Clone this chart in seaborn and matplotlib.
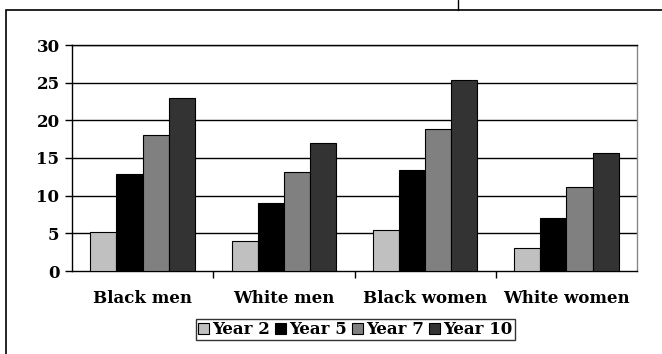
import matplotlib
matplotlib.use("Agg")
import matplotlib.pyplot as plt
import matplotlib.patches as mpatches
import matplotlib.lines as mlines
import numpy as np
import pandas as pd
import seaborn as sns

# Group categories and the survey years shown for each
categories = ["Black men", "White men", "Black women", "White women"]
years = ["Year 2", "Year 5", "Year 7", "Year 10"]

year2 = [5.2, 4.0, 5.4, 3.1]
year5 = [12.9, 9.0, 13.4, 7.1]
year7 = [18.0, 13.1, 18.9, 11.1]
year10 = [23.0, 17.0, 25.3, 15.7]

y_ticks = [0, 5, 10, 15, 20, 25, 30]

colors = ["#C0C0C0", "#000000", "#808080", "#333333"]

df = pd.DataFrame({
    "group": np.repeat(categories, len(years)),
    "year": years * len(categories),
    "value": [v for vals in zip(year2, year5, year7, year10) for v in vals],
})

sns.set_theme(style="white")
plt.rcParams["font.family"] = ["DejaVu Serif"]
plt.rcParams["font.weight"] = "bold"
plt.rcParams["text.color"] = "black"
plt.rcParams["xtick.color"] = "black"
plt.rcParams["ytick.color"] = "black"
plt.rcParams["xtick.labelcolor"] = "black"
plt.rcParams["ytick.labelcolor"] = "black"

fig = plt.figure(figsize=(6.62, 3.54), dpi=100)
W, H = 662, 354
ax = fig.add_axes([72 / W, 1 - 271 / H, 565 / W, 226 / H])

sns.barplot(
    data=df, x="group", y="value", hue="year", order=categories,
    hue_order=years, palette=colors, width=0.74, edgecolor="black",
    linewidth=0.8, saturation=1, ax=ax, legend=False, zorder=3,
)

ax.set_ylim(0, 30)
ax.set_xlim(-0.5, len(categories) - 0.5)
ax.set_yticks(y_ticks)
ax.set_yticklabels([str(t) for t in y_ticks], fontsize=12, fontweight="bold",
                   color="black")
ax.set_xticks(range(len(categories)))
ax.set_xticklabels(categories, fontsize=12, fontweight="bold", color="black")
ax.set_xlabel("")
ax.set_ylabel("")

# Horizontal gridlines
for t in y_ticks[1:]:
    ax.axhline(t, color="black", linewidth=1.0, zorder=1)

# Tick marks: y outward on the left, x at category boundaries
ax.tick_params(axis="y", direction="out", length=5, width=1, color="black",
               left=True, pad=4)
ax.tick_params(axis="x", which="major", length=0, pad=14)
ax.set_xticks(np.arange(0.5, len(categories) - 0.5, 1), minor=True)
ax.tick_params(axis="x", which="minor", direction="out", length=5, width=1,
               color="black", bottom=True)

for side in ["left", "right", "top", "bottom"]:
    ax.spines[side].set_visible(True)
    ax.spines[side].set_color("black")
    ax.spines[side].set_linewidth(1.0)
ax.spines["right"].set_color("#888888")

# Legend with square swatches
handles = [mpatches.Patch(facecolor=c, edgecolor="black", linewidth=0.8,
                          label=y) for c, y in zip(colors, years)]
leg = fig.legend(
    handles=handles, loc="center", bbox_to_anchor=(355.5 / W, 1 - 329.5 / H),
    ncol=4, frameon=True, fancybox=False, handlelength=0.65, handleheight=0.65,
    handletextpad=0.2, columnspacing=0.3, borderpad=0.12, borderaxespad=0,
    prop={"size": 12, "weight": "bold"},
)
leg.get_frame().set_edgecolor("black")
leg.get_frame().set_linewidth(1.0)
for txt in leg.get_texts():
    txt.set_color("black")

# Outer chart frame
frame = mpatches.Rectangle((6 / W, -0.1), 1.2, 1 - 10 / H + 0.1,
                           transform=fig.transFigure, fill=False,
                           edgecolor="black", linewidth=1.2, clip_on=False)
fig.add_artist(frame)
fig.add_artist(mlines.Line2D([458 / W, 458 / W], [1 - 10 / H, 1.0],
                             transform=fig.transFigure, color="black",
                             linewidth=1.0))

fig.savefig("out.png", dpi=100, facecolor="white")
